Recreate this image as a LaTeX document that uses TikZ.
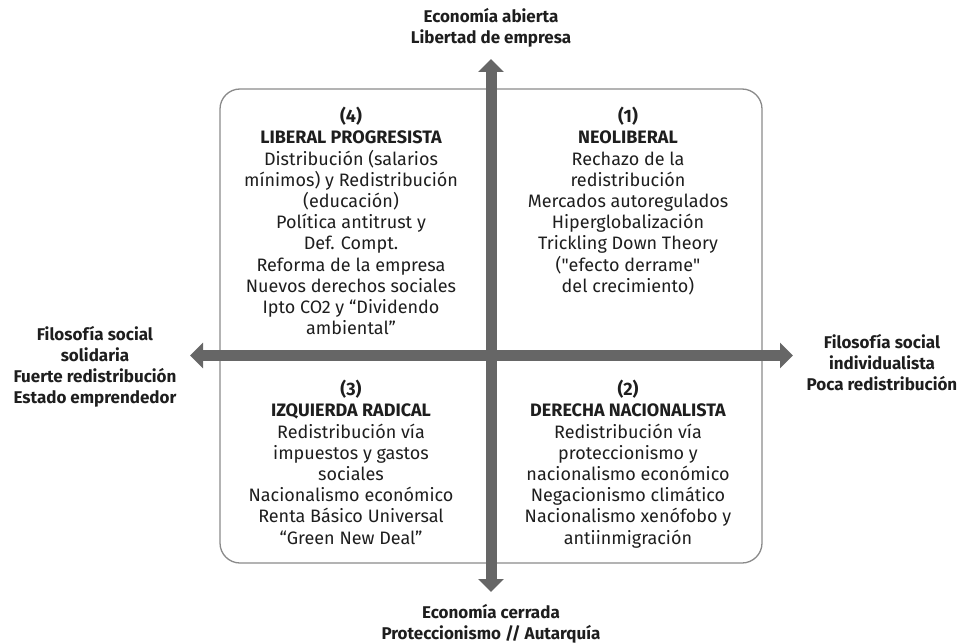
\documentclass[tikz,border=0pt]{standalone}
\usepackage{fontspec}
\setmainfont{Fira Sans}
\usetikzlibrary{arrows.meta}
\definecolor{axisgray}{HTML}{666666}
\definecolor{boxgray}{HTML}{8A8A8A}
\definecolor{ink}{HTML}{1E1E1E}
\begin{document}
\begin{tikzpicture}[x=1pt,y=-1pt,
  axis/.style={line width=11pt,draw=axisgray,{Triangle[width=25pt,length=13pt]}-{Triangle[width=25pt,length=13pt]}},
  quad/.style={align=center,inner sep=0pt,anchor=north,text=ink,font=\fontsize{18}{21.2}\selectfont},
  side/.style={align=center,inner sep=0pt,text=ink,font=\fontsize{17}{21}\selectfont\bfseries}]
\useasboundingbox (0,0) rectangle (960,644);
\pgfmathsetmacro{\cx}{491}
\pgfmathsetmacro{\cy}{355.5}
\draw[boxgray,line width=1.3pt,rounded corners=20pt](220,89)rectangle(762,563);
\coordinate(top)at(\cx,59);
\coordinate(bot)at(\cx,592);
\coordinate(lft)at(190,\cy);
\coordinate(rgt)at(793,\cy);
\draw[axis](bot)--(top);
\draw[axis](lft)--(rgt);
\node[quad](lp)at(351,107){{\bfseries (4)}\\{\bfseries LIBERAL PROGRESISTA}\\Distribución (salarios\\mínimos) y Redistribución\\(educación)\\Política antitrust y\\Def. Compt.\\Reforma de la empresa\\Nuevos derechos sociales\\Ipto CO2 y “Dividendo\\ambiental”};
\node[quad](nl)at(628,107){{\bfseries (1)}\\{\bfseries NEOLIBERAL}\\Rechazo de la\\redistribución\\Mercados autoregulados\\Hiperglobalización\\Trickling Down Theory\\(\textquotedbl efecto derrame\textquotedbl\\del crecimiento)};
\node[quad](ir)at(351,380){{\bfseries (3)}\\{\bfseries IZQUIERDA RADICAL}\\Redistribución vía\\impuestos y gastos\\sociales\\Nacionalismo económico\\Renta Básico Universal\\“Green New Deal”};
\node[quad](dn)at(628,380){{\bfseries (2)}\\{\bfseries DERECHA NACIONALISTA}\\Redistribución vía\\proteccionismo y\\nacionalismo económico\\Negacionismo climático\\Nacionalismo xenófobo y\\antiinmigración};
\node[side](abierta)at(\cx,28){Economía abierta\\Libertad de empresa};
\node[side](cerrada)at(\cx,624){Economía cerrada\\Proteccionismo // Autarquía};
\node[side](solidaria)at(95,367){Filosofía social\\solidaria\\Fuerte redistribución\\Estado emprendedor};
\node[side](individual)at(882,363){Filosofía social\\individualista\\Poca redistribución};
\end{tikzpicture}
\end{document}
